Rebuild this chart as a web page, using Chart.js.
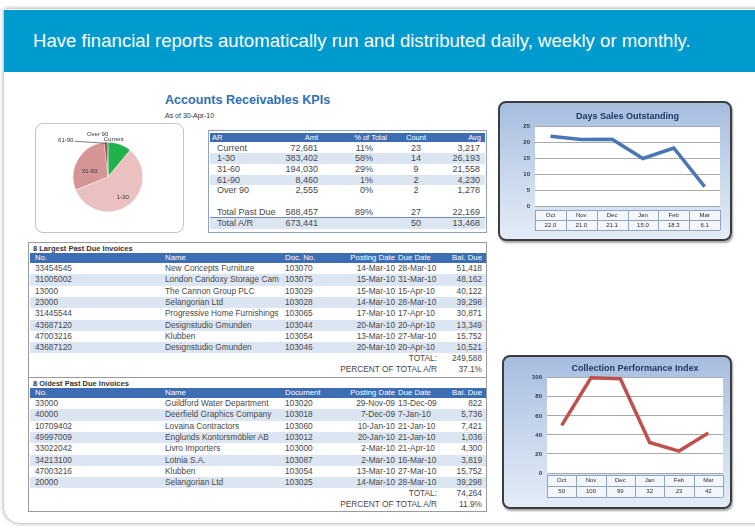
<!DOCTYPE html>
<html>
<head>
<meta charset="utf-8">
<title>Accounts Receivables KPIs</title>
<script src="https://cdn.jsdelivr.net/npm/chart.js@4.4.1/dist/chart.umd.min.js"></script>
<style>
  html, body { margin: 0; padding: 0; }
  body { width: 755px; height: 529px; overflow: hidden; position: relative; background: #fff;
         font-family: "Liberation Sans", Arial, sans-serif; color: #3c3c3c; }
  .card { position: absolute; left: 4px; top: 9px; width: 830px; height: 514px; background: #fff;
          border-radius: 3px 16px 16px 16px; box-shadow: 0 0 4px rgba(0,0,0,0.45); }
  .banner { position: absolute; left: 4px; top: 10px; width: 751px; height: 62px; background: #009bce;
            color: #fff; font-size: 18.6px; }
  .banner span { position: absolute; left: 29px; top: 20px; white-space: nowrap; }
  .abs { position: absolute; white-space: nowrap; }
  .box { position: absolute; box-sizing: border-box; border: 1px solid #9a9a9a; background: #fff; }
  .row { position: absolute; overflow: hidden; }
  .cell { position: absolute; top: 0; white-space: nowrap; }
  .chartframe { position: absolute; box-sizing: border-box; border: 2px solid #3d3d3d; border-radius: 8px;
                background: linear-gradient(to bottom, #a6bddf 0%, #cad9ee 55%, #e4ecf7 100%);
                box-shadow: 1px 2px 2px rgba(0,0,0,0.35); }
  .chartframe canvas { position: absolute; left: -2px; top: -2px; }
</style>
</head>
<body>
<div class="card"></div>
<div class="banner"><span>Have financial reports automatically run and distributed daily, weekly or monthly.</span></div>

<div class="abs" style="left:165px;top:93px;font-size:12.6px;font-weight:bold;color:#2f6fb4;">Accounts Receivables KPIs</div>
<div class="abs" style="left:165px;top:112px;font-size:7px;color:#333;">As of 30-Apr-10</div>

<div class="box" style="left:35px;top:123px;width:149px;height:110px;border-radius:8px;border-color:#c4c4c4;">
  <canvas id="pie" width="147" height="108" style="position:absolute;left:0;top:0;"></canvas>
</div>

<div class="box" id="kpi" style="left:208px;top:130px;width:279px;height:103px;border-color:#8ea2bf;"></div>
<div class="box" id="inv1" style="left:28px;top:242px;width:459px;height:136px;"></div>
<div class="box" id="inv2" style="left:28px;top:377px;width:459px;height:135px;"></div>

<div class="chartframe" style="left:498px;top:101px;width:234px;height:140px;">
  <canvas id="dso" width="234" height="140"></canvas>
</div>
<div class="chartframe" style="left:502px;top:355px;width:230px;height:154px;">
  <canvas id="cpi" width="230" height="154"></canvas>
</div>

<script>
// aging buckets (KPI table + pie)
const agingBuckets = ['Current', '1-30', '31-60', '61-90', 'Over 90'];
const agingAmt = [72681, 383402, 194030, 8460, 2555];
const agingPct = ['11%', '58%', '29%', '1%', '0%'];
const agingCount = [23, 14, 9, 2, 2];
const agingAvg = ['3,217', '26,193', '21,558', '4,230', '1,278'];
const pastDueTotal = ['Total Past Due', '588,457', '89%', '27', '22,169'];
const arTotal = ['Total A/R', '673,441', '', '50', '13,468'];

// monthly KPIs
const months = ['Oct', 'Nov', 'Dec', 'Jan', 'Feb', 'Mar'];
const dsoValues = [22.0, 21.0, 21.1, 15.0, 18.3, 6.1];
const cpiValues = [50, 100, 99, 32, 23, 42];

// invoice lists
const invHeader1 = ['No.', 'Name', 'Doc. No.', 'Posting Date', 'Due Date', 'Bal. Due'];
const largestInvoices = [
  ['33454545', 'New Concepts Furniture', '103070', '14-Mar-10', '28-Mar-10', '51,418'],
  ['31005002', 'London Candoxy Storage Cam', '103075', '15-Mar-10', '31-Mar-10', '48,162'],
  ['13000', 'The Cannon Group PLC', '103029', '15-Mar-10', '15-Apr-10', '40,122'],
  ['23000', 'Selangorian Ltd', '103028', '14-Mar-10', '28-Mar-10', '39,298'],
  ['31445544', 'Progressive Home Furnishings', '103065', '17-Mar-10', '17-Apr-10', '30,871'],
  ['43687120', 'Designstudio Gmunden', '103044', '20-Mar-10', '20-Apr-10', '13,349'],
  ['47003216', 'Klubben', '103054', '13-Mar-10', '27-Mar-10', '15,752'],
  ['43687120', 'Designstudio Gmunden', '103046', '20-Mar-10', '20-Apr-10', '10,521']
];
const largestTotal = '249,588';
const largestPct = '37.1%';

const invHeader2 = ['No.', 'Name', 'Document', 'Posting Date', 'Due Date', 'Bal. Due'];
const oldestInvoices = [
  ['33000', 'Guildford Water Department', '103020', '29-Nov-09', '13-Dec-09', '822'],
  ['40000', 'Deerfield Graphics Company', '103018', '7-Dec-09', '7-Jan-10', '5,736'],
  ['10709402', 'Lovaina Contractors', '103060', '10-Jan-10', '21-Jan-10', '7,421'],
  ['49997009', 'Englunds Kontorsmöbler AB', '103012', '20-Jan-10', '21-Jan-10', '1,036'],
  ['33022042', 'Livro Importers', '103000', '2-Mar-10', '21-Apr-10', '4,300'],
  ['34213100', 'Lotnia S.A.', '103087', '2-Mar-10', '16-Mar-10', '3,819'],
  ['47003216', 'Klubben', '103054', '13-Mar-10', '27-Mar-10', '15,752'],
  ['20000', 'Selangorian Ltd', '103025', '14-Mar-10', '28-Mar-10', '39,298']
];
const oldestTotal = '74,264';
const oldestPct = '11.9%';

const HEAD_BLUE = '#3d6db2';
const ZEBRA = '#dce6f2';

function addRow(top, h, x1, x2, bg, cols, vals, opt) {
  opt = opt || {};
  var r = document.createElement('div');
  r.className = 'row';
  r.style.cssText = 'left:' + x1 + 'px;width:' + (x2 - x1) + 'px;top:' + top + 'px;height:' + h +
    'px;line-height:' + h + 'px;background:' + bg + ';font-size:' + (opt.size || 8.3) + 'px;color:' +
    (opt.color || '#484848') + ';' + (opt.bold ? 'font-weight:bold;' : '') + (opt.extra || '');
  vals.forEach(function (v, i) {
    if (v === '' || v == null) return;
    var c = cols[i];
    var s = document.createElement('span');
    s.className = 'cell';
    s.textContent = v;
    if (c.a === 'L') {
      s.style.left = (c.x - x1) + 'px';
    } else if (c.a === 'R') {
      s.style.left = (c.x - x1 - 200) + 'px'; s.style.width = '200px'; s.style.textAlign = 'right';
    } else {
      s.style.left = (c.x - x1 - 50) + 'px'; s.style.width = '100px'; s.style.textAlign = 'center';
    }
    r.appendChild(s);
  });
  document.body.appendChild(r);
}

// KPI table
var kpiHeadCols = [{x:212,a:'L'},{x:318,a:'R'},{x:387,a:'R'},{x:416,a:'C'},{x:481,a:'R'}];
var kpiCols = [{x:217,a:'L'},{x:318,a:'R'},{x:373,a:'R'},{x:416,a:'C'},{x:480,a:'R'}];
addRow(133, 9, 210, 485, HEAD_BLUE, kpiHeadCols, ['AR', 'Amt', '% of Total', 'Count', 'Avg'], {color:'#fff', size:7.5});
var ky = 142.5, kh = 10.7;
agingBuckets.forEach(function (b, i) {
  addRow(ky + i * kh, kh, 210, 485, i % 2 ? ZEBRA : '#fff', kpiCols,
    [b, agingAmt[i].toLocaleString('en-US'), agingPct[i], agingCount[i], agingAvg[i]], {size:9});
});
addRow(ky + 6 * kh, kh, 210, 485, '#fff', kpiCols, pastDueTotal, {size:9});
addRow(ky + 7 * kh, kh, 210, 485, ZEBRA, kpiCols, arTotal, {size:9, extra:'border-top:1px solid #6f8cbc;'});

// invoice tables
var invCols = [{x:35,a:'L'},{x:165,a:'L'},{x:285,a:'L'},{x:395,a:'R'},{x:398,a:'L'},{x:482,a:'R'}];
var totCols = [{x:437,a:'R'},{x:482,a:'R'}];
function invoiceTable(top, title, header, rows, total, pct) {
  var rh = 11.3;
  var t = document.createElement('div');
  t.className = 'abs';
  t.style.cssText = 'left:33px;top:' + (top + 2) + 'px;font-size:7.5px;font-weight:bold;color:#333;';
  t.textContent = title;
  document.body.appendChild(t);
  addRow(top + 11, 10, 30, 486, HEAD_BLUE, invCols, header, {color:'#fff', size:7.8});
  var y = top + 21;
  rows.forEach(function (r, i) {
    addRow(y + i * rh, rh, 30, 486, i % 2 ? ZEBRA : '#fff', invCols, r);
  });
  addRow(y + 8 * rh, rh, 30, 486, '#fff', totCols, ['TOTAL:', total]);
  addRow(y + 9 * rh - 0.5, rh, 30, 486, '#fff', totCols, ['PERCENT OF TOTAL A/R', pct]);
}
invoiceTable(242, '8 Largest Past Due Invoices', invHeader1, largestInvoices, largestTotal, largestPct);
invoiceTable(377, '8 Oldest Past Due Invoices', invHeader2, oldestInvoices, oldestTotal, oldestPct);

// ---------- charts ----------
Chart.defaults.font.family = '"Liberation Sans", Arial, sans-serif';

const pieLabels = {
  id: 'pieLabels',
  afterDraw(chart, args, opts) {
    const ctx = chart.ctx;
    const meta = chart.getDatasetMeta(0);
    ctx.save();
    ctx.font = '6px "Liberation Sans", Arial, sans-serif';
    ctx.fillStyle = '#333';
    ctx.strokeStyle = '#444';
    ctx.lineWidth = 0.7;
    ctx.textAlign = 'center';
    ctx.textBaseline = 'middle';
    meta.data.forEach(function (arc, i) {
      const p = arc.getProps(['x', 'y', 'startAngle', 'endAngle', 'outerRadius'], true);
      const mid = (p.startAngle + p.endAngle) / 2;
      const lab = chart.data.labels[i];
      const o = opts.place[i];
      if (o.inside) {
        ctx.fillText(lab, p.x + Math.cos(mid) * p.outerRadius * o.inside,
          p.y + Math.sin(mid) * p.outerRadius * o.inside + (o.dy || 0));
        return;
      }
      const ax = p.x + Math.cos(mid) * p.outerRadius;
      const ay = p.y + Math.sin(mid) * p.outerRadius;
      ctx.fillText(lab, ax + o.dx, ay + o.dy);
      if (o.line) {
        const w = ctx.measureText(lab).width;
        ctx.beginPath();
        ctx.moveTo(ax + o.dx + w / 2 + 1, ay + o.dy + 1);
        ctx.lineTo(ax, ay + 1);
        ctx.stroke();
      }
    });
    ctx.restore();
  }
};

new Chart(document.getElementById('pie'), {
  type: 'pie',
  data: {
    labels: agingBuckets,
    datasets: [{
      data: agingAmt,
      backgroundColor: ['#21b24b', '#ebc0c0', '#d69595', '#8a3b3b', '#5a2323'],
      borderColor: '#fff',
      borderWidth: 0.4
    }]
  },
  options: {
    responsive: false,
    animation: false,
    layout: { padding: { top: 18, bottom: 20, left: 37, right: 40 } },
    plugins: {
      legend: { display: false },
      tooltip: { enabled: false },
      pieLabels: {
        place: [
          { dx: -6, dy: -5 },
          { inside: 0.72 },
          { inside: 0.62, dy: 6 },
          { dx: -40, dy: -2, line: true },
          { dx: -10, dy: -8 }
        ]
      }
    }
  },
  plugins: [pieLabels]
});

// white plot area and the data table under the x axis
const plotDeco = {
  id: 'plotDeco',
  beforeDraw(chart) {
    const a = chart.chartArea;
    chart.ctx.save();
    chart.ctx.fillStyle = '#fff';
    chart.ctx.fillRect(a.left, a.top, a.right - a.left, a.bottom - a.top);
    chart.ctx.restore();
  },
  afterDraw(chart, args, opts) {
    const ctx = chart.ctx;
    const a = chart.chartArea;
    const xs = chart.scales.x;
    const labels = chart.data.labels;
    const vals = chart.data.datasets[0].data;
    const n = labels.length;
    const cw = (a.right - a.left) / n;
    const top = a.bottom + opts.gap;
    const rh = opts.rowH;
    ctx.save();
    ctx.fillStyle = '#f3f6fb';
    ctx.fillRect(a.left, top, a.right - a.left, rh * 2);
    ctx.strokeStyle = '#8fa3c4';
    ctx.lineWidth = 1;
    ctx.beginPath();
    for (let r = 0; r <= 2; r++) {
      ctx.moveTo(a.left, Math.round(top + r * rh) + 0.5);
      ctx.lineTo(a.right, Math.round(top + r * rh) + 0.5);
    }
    for (let i = 0; i <= n; i++) {
      const x = Math.round(a.left + i * cw) + 0.5;
      ctx.moveTo(x, top);
      ctx.lineTo(x, top + rh * 2);
    }
    ctx.stroke();
    ctx.fillStyle = '#2b2b2b';
    ctx.font = '6px "Liberation Sans", Arial, sans-serif';
    ctx.textAlign = 'center';
    ctx.textBaseline = 'middle';
    for (let i = 0; i < n; i++) {
      const x = xs.getPixelForValue(i);
      ctx.fillText(labels[i], x, top + rh / 2);
      ctx.fillText(opts.fmt(vals[i]), x, top + rh * 1.5);
    }
    ctx.restore();
  }
};

function kpiLine(id, title, values, color, yMax, yStep, axisW, pad, titlePad, table) {
  return new Chart(document.getElementById(id), {
    type: 'line',
    data: {
      labels: months,
      datasets: [{
        data: values,
        borderColor: color,
        borderWidth: 3.5,
        pointRadius: 0,
        tension: 0,
        fill: false,
        clip: 5
      }]
    },
    options: {
      responsive: false,
      animation: false,
      layout: { padding: pad },
      plugins: {
        legend: { display: false },
        tooltip: { enabled: false },
        title: {
          display: true,
          text: title,
          fullSize: false,
          color: '#1f3864',
          font: { size: 9, weight: 'bold' },
          padding: titlePad
        },
        plotDeco: table
      },
      scales: {
        x: { type: 'category', display: false, offset: true },
        y: {
          min: 0,
          max: yMax,
          afterFit: function (s) { s.width = axisW; },
          ticks: { stepSize: yStep, font: { size: 6, weight: 'bold' }, color: '#333', padding: 5 },
          grid: { color: '#a9a9a9', drawTicks: false },
          border: { display: false }
        }
      }
    },
    plugins: [plotDeco]
  });
}

kpiLine('dso', 'Days Sales Outstanding', dsoValues, '#4a76b6', 25, 5, 37,
  { top: 0, right: 12, bottom: 35, left: 0 }, { top: 10, bottom: 5 },
  { gap: 4, rowH: 10, fmt: function (v) { return v.toFixed(1); } });

kpiLine('cpi', 'Collection Performance Index', cpiValues, '#c0504d', 100, 20, 45,
  { top: 0, right: 9, bottom: 36, left: 0 }, { top: 8, bottom: 4 },
  { gap: 2, rowH: 11, fmt: function (v) { return String(v); } });
</script>
</body>
</html>
